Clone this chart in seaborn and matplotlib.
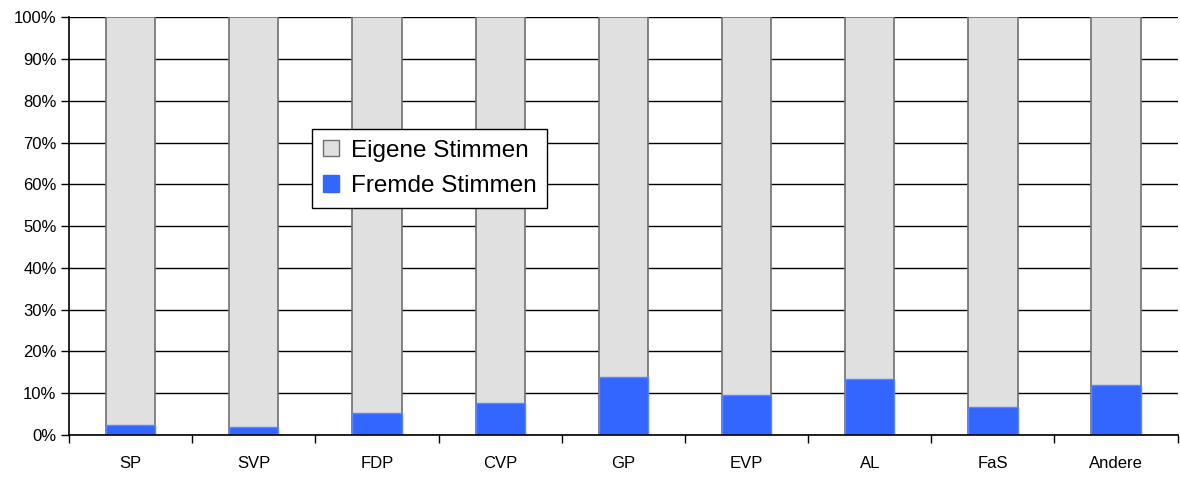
import matplotlib
matplotlib.use("Agg")
import matplotlib.pyplot as plt
import seaborn as sns
import pandas as pd
from matplotlib.patches import Patch
from matplotlib.ticker import FixedLocator, PercentFormatter

parties = ["SP", "SVP", "FDP", "CVP", "GP", "EVP", "AL", "FaS", "Andere"]
fremde = [2.4, 1.9, 5.3, 7.7, 13.9, 9.6, 13.4, 6.7, 12.0]
eigene = [100 - f for f in fremde]
yticks = list(range(0, 101, 10))

df = pd.DataFrame({"Partei": parties, "Fremde": fremde, "Eigene": eigene})
df["Total"] = df["Fremde"] + df["Eigene"]

sns.set_style("white")
plt.rcParams["font.family"] = ["Liberation Sans", "DejaVu Sans"]
plt.rcParams["text.color"] = "black"
plt.rcParams["xtick.color"] = "black"
plt.rcParams["ytick.color"] = "black"

fig = plt.figure(figsize=(11.8, 4.78), dpi=100)
ax = fig.add_axes([0.0585, 0.09, 0.9395, 0.874])

grey = "#e0e0e0"
blue = "#3366ff"

sns.barplot(data=df, x="Partei", y="Total", color=grey, width=0.4,
            edgecolor="#707070", linewidth=1.2, saturation=1, ax=ax, zorder=2)
sns.barplot(data=df, x="Partei", y="Fremde", color=blue, width=0.4,
            edgecolor="#5c85ff", linewidth=1.0, saturation=1, ax=ax, zorder=3)

ax.set_xlim(-0.5, len(parties) - 0.5)
ax.set_ylim(0, 100)
ax.set_yticks(yticks)
ax.yaxis.set_major_formatter(PercentFormatter(decimals=0))
ax.yaxis.grid(True, color="black", linewidth=1.0)
ax.set_axisbelow(True)
ax.set_xlabel("")
ax.set_ylabel("")

ax.xaxis.set_minor_locator(FixedLocator([i - 0.5 for i in range(len(parties) + 1)]))
ax.tick_params(axis="x", which="major", length=0, pad=15, labelsize=12, labelcolor="black")
ax.tick_params(axis="x", which="minor", length=6, width=1, color="black", direction="out", bottom=True)
ax.tick_params(axis="y", length=6, width=1, color="black", direction="out", left=True,
               labelsize=12, pad=3, labelcolor="black")

for s in ["top", "right"]:
    ax.spines[s].set_visible(False)
for s in ["left", "bottom"]:
    ax.spines[s].set_color("black")
    ax.spines[s].set_linewidth(1.2)
    ax.spines[s].set_zorder(4)

handles = [Patch(facecolor=grey, edgecolor="#707070", label="Eigene Stimmen"),
           Patch(facecolor=blue, edgecolor=blue, label="Fremde Stimmen")]
leg = ax.legend(handles=handles, loc="upper left", bbox_to_anchor=(0.219, 0.733),
                fontsize=17.5, frameon=True, fancybox=False, framealpha=1,
                edgecolor="black", handlelength=0.65, handleheight=0.65,
                handletextpad=0.5, labelspacing=0.55, borderpad=0.45, borderaxespad=0)
leg.get_frame().set_linewidth(1.0)
leg.set_zorder(10)
for t in leg.get_texts():
    t.set_color("black")

fig.savefig("out.png", dpi=100)
